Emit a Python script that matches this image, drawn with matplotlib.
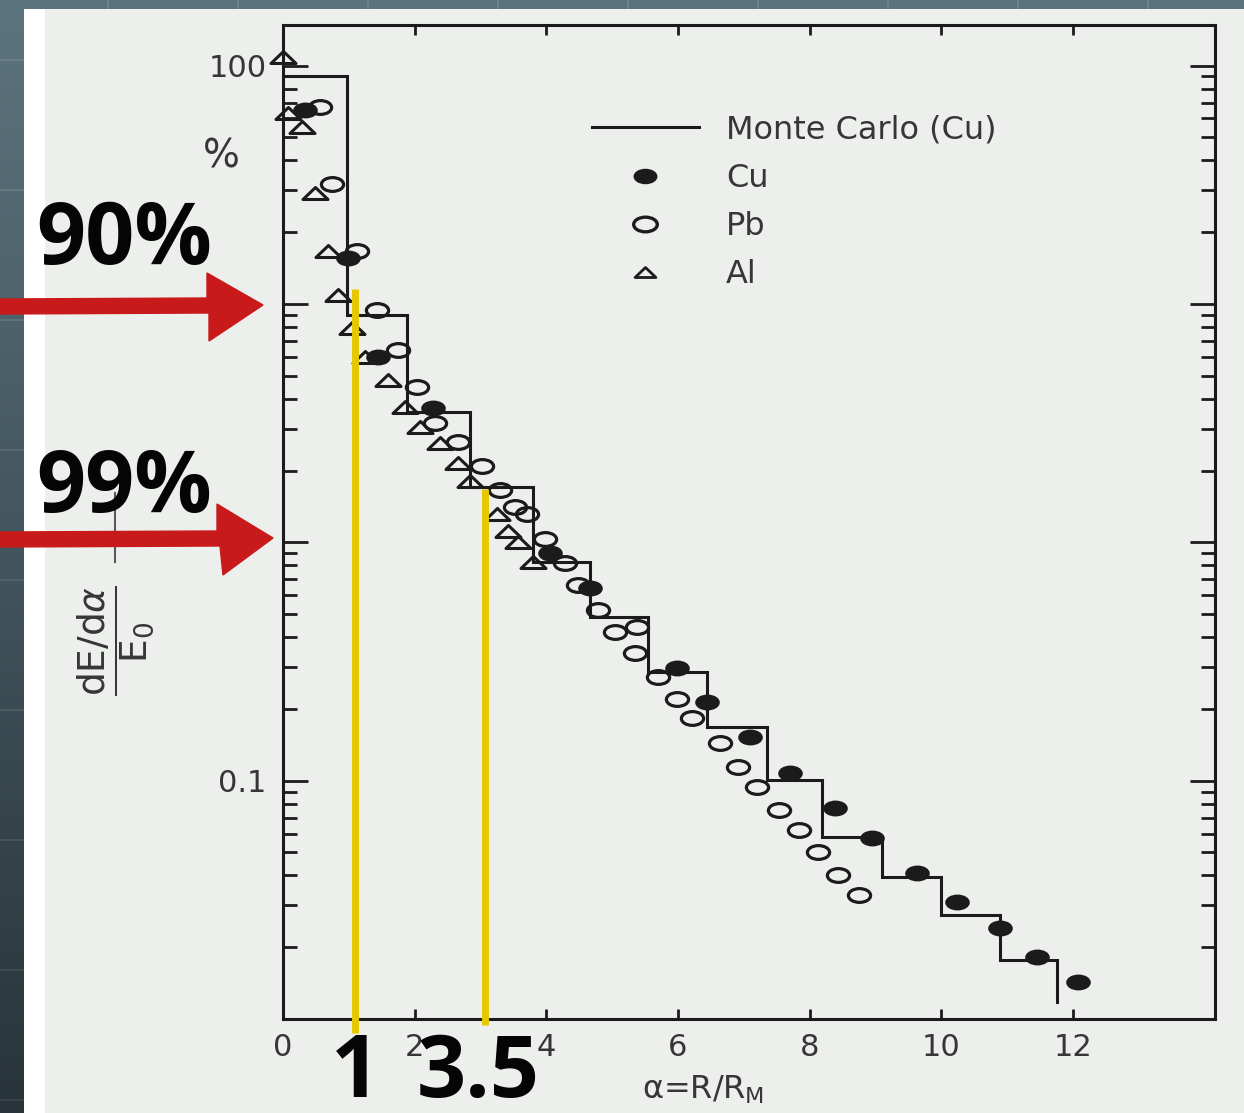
import numpy as np
import matplotlib
matplotlib.use("Agg")
import matplotlib.pyplot as plt
from matplotlib.path import Path
from matplotlib.lines import Line2D
from matplotlib.patches import Polygon
from matplotlib.ticker import FixedLocator, LogLocator, FuncFormatter, NullFormatter

W, H, DPI = 1244, 1113, 100

# Monte Carlo (Cu): histogram bin edges in alpha = R/R_M and bin contents (%)
mc_edges = [0.0, 0.97, 1.88, 2.84, 3.80, 4.67, 5.55, 6.44, 7.36, 8.19, 9.10, 10.00, 10.90, 11.76]
mc_values = [90.0, 9.0, 3.53, 1.71, 0.83, 0.488, 0.286, 0.168, 0.101, 0.058, 0.0395, 0.0273, 0.0177]
mc_tail = 0.0118

# Measured radial profiles
cu_alpha = [0.33, 0.99, 1.44, 2.28, 4.06, 4.67, 5.99, 6.44, 7.10, 7.71, 8.39, 8.95, 9.64, 10.24, 10.90, 11.46, 12.08]
cu_value = [65.3, 15.6, 6.01, 3.67, 0.904, 0.644, 0.297, 0.214, 0.153, 0.108, 0.0769, 0.0575, 0.0410, 0.0310, 0.0241, 0.0182, 0.0143]

pb_alpha = [0.56, 0.74, 1.12, 1.43, 1.75, 2.04, 2.31, 2.66, 3.02, 3.30, 3.53, 3.71, 3.98, 4.29, 4.48,
            4.79, 5.05, 5.38, 5.35, 5.70, 5.99, 6.22, 6.64, 6.91, 7.20, 7.54, 7.84, 8.13, 8.43, 8.75]
pb_value = [67.3, 32.0, 16.6, 9.46, 6.43, 4.50, 3.18, 2.64, 2.08, 1.66, 1.41, 1.31, 1.03, 0.82, 0.66,
            0.52, 0.42, 0.44, 0.344, 0.273, 0.219, 0.184, 0.144, 0.114, 0.094, 0.0755, 0.0622, 0.0503, 0.0403, 0.0332]

al_alpha = [0.0, 0.08, 0.29, 0.49, 0.68, 0.84, 1.05, 1.25, 1.60, 1.85, 2.08, 2.39, 2.66, 2.84, 3.25, 3.42, 3.57, 3.80]
al_value = [109.0, 63.5, 55.5, 29.3, 16.6, 10.9, 7.96, 6.0, 4.81, 3.71, 3.05, 2.62, 2.16, 1.80, 1.31, 1.11, 1.00, 0.83]

# Containment guides (90% and 99%)
guide_alpha = [1.09, 3.07]
guide_top = [11.5, 1.68]
guide_bottom = [0.0087, 0.0094]

x_ticks = [0, 2, 4, 6, 8, 10, 12]
x_tick_labels = ["0", "2", "4", "6", "8", "10", "12"]
y_major = [0.01, 0.1, 1, 10, 100]
y_label_values = [100, 0.1]
y_label_text = ["100", "0.1"]

ink = "#1b1b1b"
label_grey = "#363636"
paper = (236, 239, 235)
red = "#c81a1a"
yellow = "#e6c700"


def fx(px):
    return px / W


def fy(py):
    return 1 - py / H


# ---- slide background: dark gradient with faint grid, white card, scanned paper ----
bg = np.zeros((H, W, 3), dtype=float)
t = np.linspace(0, 1, H)[:, None, None]
top_c = np.array([92, 116, 126], dtype=float)
bot_c = np.array([40, 52, 58], dtype=float)
bg[:] = top_c * (1 - t) + bot_c * t
for gx in range(107, W, 130):
    bg[:, gx:gx + 2] += 16
for gy in range(59, H, 130):
    bg[gy:gy + 2, :] += 16
bg[9:, 24:] = 255
bg[9:, 45:] = paper
bg = np.clip(bg, 0, 255).astype(np.uint8)

fig = plt.figure(figsize=(W / DPI, H / DPI), dpi=DPI)
fig.figimage(bg, 0, 0, origin="upper", zorder=-10)

ax = fig.add_axes([fx(283), fy(1019), (1215 - 283) / W, (1019 - 25) / H])
ax.set_facecolor("none")
ax.set_yscale("log")
ax.set_xlim(0, 14.16)
ax.set_ylim(0.01, 148)

for s in ax.spines.values():
    s.set_linewidth(2.2)
    s.set_color(ink)

ax.xaxis.set_major_locator(FixedLocator(x_ticks))
ax.set_xticklabels(x_tick_labels)
ax.yaxis.set_major_locator(FixedLocator(y_major))
ax.yaxis.set_minor_locator(LogLocator(base=10, subs=np.arange(2, 10), numticks=20))
ylabels = dict(zip(y_label_values, y_label_text))
ax.yaxis.set_major_formatter(FuncFormatter(
    lambda v, p: next((s for k, s in ylabels.items() if abs(np.log10(v) - np.log10(k)) < 1e-6), "")))
ax.yaxis.set_minor_formatter(NullFormatter())

ax.tick_params(axis="x", which="major", direction="in", top=True, bottom=True,
               length=7, width=2.0, color=ink, labelsize=22, labelcolor=label_grey, pad=10)
ax.tick_params(axis="y", which="major", direction="in", left=True, right=True,
               length=18, width=2.0, color=ink, labelsize=22, labelcolor=label_grey, pad=12)
ax.tick_params(axis="y", which="minor", direction="in", left=True, right=True,
               length=10, width=2.0, color=ink)
# the "100" label sits a little further from the spine
for tk in ax.yaxis.get_major_ticks(len(y_major)):
    if np.isclose(tk.get_loc(), 100):
        tk.set_pad(20)

# ---- marker shapes: flattened ellipse and flattened triangle ----
circ = Path.unit_circle()
ellipse = Path(circ.vertices * np.array([1.0, 0.62]), circ.codes)
tri = Path([(-1, -0.48), (1, -0.48), (0, 0.48), (-1, -0.48)],
           [Path.MOVETO, Path.LINETO, Path.LINETO, Path.CLOSEPOLY])

# ---- Monte Carlo histogram outline ----
edges = np.asarray(mc_edges)
vals = np.asarray(mc_values)
hx = np.concatenate([[edges[0]], np.repeat(edges[1:], 2)])
hy = np.concatenate([np.repeat(vals, 2), [mc_tail]])
ax.plot(hx, hy, color=ink, lw=2.2, solid_joinstyle="miter", zorder=3, clip_on=False)

ax.plot(al_alpha, al_value, ls="none", marker=tri, ms=18, mfc="none", mec=ink, mew=2.2,
        zorder=4, clip_on=False)
ax.plot(pb_alpha, pb_value, ls="none", marker=ellipse, ms=16, mfc="none", mec=ink, mew=2.3,
        zorder=5, clip_on=False)
ax.plot(cu_alpha, cu_value, ls="none", marker=ellipse, ms=16.5, mfc=ink, mec=ink, mew=1.2,
        zorder=6, clip_on=False)

# ---- legend ----
handles = [
    Line2D([], [], color=ink, lw=2.2),
    Line2D([], [], ls="none", marker=ellipse, ms=16, mfc=ink, mec=ink, mew=1.2),
    Line2D([], [], ls="none", marker=ellipse, ms=17, mfc="none", mec=ink, mew=2.4),
    Line2D([], [], ls="none", marker=tri, ms=15, mfc="none", mec=ink, mew=2.0),
]
leg = ax.legend(handles, ["Monte Carlo (Cu)", "Cu", "Pb", "Al"], loc="upper left",
                bbox_to_anchor=(0.3315, 0.910), frameon=False, fontsize=23, handlelength=3.35,
                handletextpad=0.85, labelspacing=0.54, borderpad=0, borderaxespad=0, numpoints=1)
for txt in leg.get_texts():
    txt.set_color(label_grey)

ax.set_xlabel(r"α=R/R$_{\mathrm{M}}$", fontsize=23, color=label_grey)
ax.xaxis.set_label_coords((703 - 283) / 932, (1019 - 1074) / 994)

# ---- containment guides ----
ax.vlines(guide_alpha, guide_bottom, guide_top, colors=yellow, lw=5, zorder=10, clip_on=False)

# ---- figure-level labels ----
fig.text(fx(116), fy(641), r"$\dfrac{\mathrm{dE/d}\alpha}{\mathrm{E}_0}$", rotation=90,
         ha="center", va="center", fontsize=27, color=label_grey)
fig.text(fx(221), fy(156), "%", ha="center", va="center", fontsize=28, color=label_grey)
fig.add_artist(Line2D([fx(115), fx(115)], [fy(493), fy(562)], transform=fig.transFigure,
                      color="#5a5a5a", lw=1.5))

# red arrows
arrow1 = [(0, 299), (207, 298), (207, 273), (263, 305), (209, 341), (209, 313), (0, 314)]
arrow2 = [(0, 532), (217, 531), (217, 504), (273, 538), (223, 575), (220, 546), (0, 547)]
for pts in (arrow1, arrow2):
    fig.add_artist(Polygon([(fx(x), fy(y)) for x, y in pts], closed=True,
                           transform=fig.transFigure, facecolor=red, edgecolor=red, lw=1.0,
                           zorder=20))

bold = dict(fontsize=62, fontweight="bold", family=["Open Sans", "Noto Sans", "DejaVu Sans"],
            color="#050505", va="baseline", ha="left", zorder=25)
fig.text(fx(36), fy(264), "90%", **bold)
fig.text(fx(36), fy(512), "99%", **bold)
fig.text(fx(331), fy(1097), "1", **bold)
fig.text(fx(417), fy(1097), "3.5", **bold)

fig.savefig("out.png", dpi=DPI)
